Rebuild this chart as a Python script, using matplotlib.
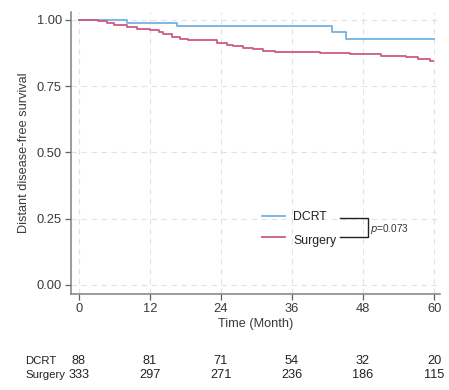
import matplotlib
matplotlib.use("Agg")
import matplotlib.pyplot as plt
from matplotlib.lines import Line2D
from matplotlib.transforms import blended_transform_factory

plt.rcParams['font.family'] = ['Liberation Sans', 'DejaVu Sans']

# ---- data ----
dcrt_t = [0, 8.1, 16.6, 42.7, 45.2, 60]
dcrt_s = [1.0, 0.989, 0.977, 0.956, 0.930, 0.930]

surg_t = [0, 3.3, 4.75, 5.9, 8.1, 9.8, 12.1, 13.5, 14.3, 15.7, 17.1, 18.5, 23.3,
          25.0, 26.1, 27.8, 29.5, 31.2, 33.1, 40.7, 45.8, 51.1, 55.3, 57.3, 59.3, 59.8]
surg_s = [1.0, 0.996, 0.9875, 0.9825, 0.975, 0.9675, 0.9625, 0.955, 0.946, 0.9375,
          0.930, 0.9225, 0.914, 0.905, 0.900, 0.895, 0.890, 0.884, 0.8775, 0.874,
          0.871, 0.8625, 0.859, 0.8525, 0.845, 0.845]

groups = ["DCRT", "Surgery"]
risk_times = [0, 12, 24, 36, 48, 60]
risk_dcrt = [88, 81, 71, 54, 32, 20]
risk_surg = [333, 297, 271, 236, 186, 115]
y_ticks = [0.0, 0.25, 0.5, 0.75, 1.0]
y_ticklabels = ["0.00", "0.25", "0.50", "0.75", "1.00"]
p_text = "=0.073"

C_BLUE = "#72b2e4"
C_PINK = "#cc5a86"
TXT = "#3a3a3a"

W, H = 449, 390
fig = plt.figure(figsize=(W / 100, H / 100), dpi=100)
ax = fig.add_axes([71 / W, 1 - 293.7 / H, (440 - 71) / W, (293.7 - 12) / H])

ax.plot(dcrt_t, dcrt_s, drawstyle="steps-post", color=C_BLUE, lw=1.3)
ax.plot(surg_t, surg_s, drawstyle="steps-post", color=C_PINK, lw=1.3)

ax.set_xlim(-1.3, 61.0)
ax.set_ylim(-0.033, 1.03)
ax.set_xticks(risk_times)
ax.set_yticks(y_ticks)
ax.set_yticklabels(y_ticklabels)
ax.grid(True, color="#e2e2e2", linestyle=(0, (5, 4)), lw=0.8)
ax.set_axisbelow(True)
for s in ["top", "right"]:
    ax.spines[s].set_visible(False)
for s in ["left", "bottom"]:
    ax.spines[s].set_color("#808080")
    ax.spines[s].set_linewidth(1.1)
ax.tick_params(colors="#606060", labelcolor=TXT, labelsize=9.3, length=4, width=0.9, pad=2.5)
ax.set_xlabel("Time (Month)", fontsize=9.2, color=TXT, labelpad=2)
ax.set_ylabel("Distant disease-free survival", fontsize=9.2, color=TXT, labelpad=5)


def fx(px):
    return px / W


def fy(py):
    return 1 - py / H


# legend (manual)
for (ly, col, name, ty) in [(215.5, C_BLUE, groups[0], 217.5), (236.7, C_PINK, groups[1], 241.0)]:
    fig.add_artist(Line2D([fx(262), fx(285)], [fy(ly), fy(ly)], color=col, lw=1.3,
                          transform=fig.transFigure))
    fig.text(fx(293), fy(ty), name, fontsize=8.8, color="#222222", va="center", ha="left")

# bracket
fig.add_artist(Line2D([fx(340), fx(368), fx(368), fx(340)],
                      [fy(217.5), fy(217.5), fy(237), fy(237)],
                      color="#222222", lw=1.0, transform=fig.transFigure))
fig.text(fx(370), fy(229), r"$\it{p}$" + p_text, fontsize=7.2, color="#333333",
         va="center", ha="left")

# number at risk table
tr = blended_transform_factory(ax.transData, fig.transFigure)
for name, vals, py in [(groups[0], risk_dcrt, 360.5), (groups[1], risk_surg, 375)]:
    fig.text(fx(25), fy(py), name, fontsize=8.2, color="#222222", va="center", ha="left")
    for t, v in zip(risk_times, vals):
        ax.text(t, fy(py), str(v), transform=tr, fontsize=9.2, color="#222222",
                va="center", ha="center")

fig.savefig("out.png", dpi=100)
